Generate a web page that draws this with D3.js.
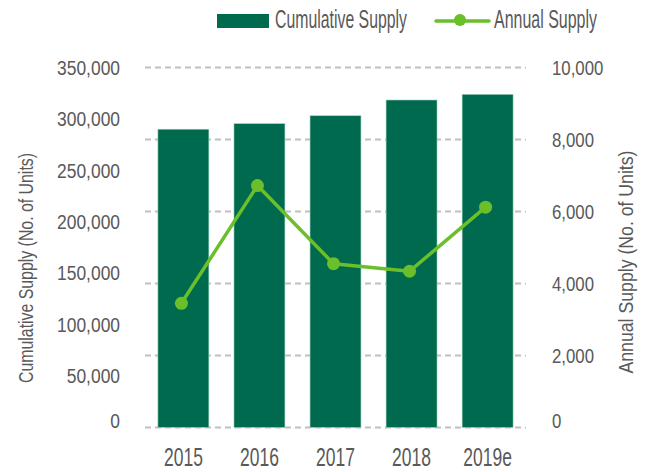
<!DOCTYPE html>
<html>
<head>
<meta charset="utf-8">
<script src="https://cdn.jsdelivr.net/npm/d3@7"></script>
<style>
  body { margin: 0; background: #fff; }
  text { font-family: "Liberation Sans", Arial, sans-serif; fill: #595959; }
</style>
</head>
<body>
<svg id="chart" width="655" height="472"></svg>
<script>
// chart data
const years = ['2015', '2016', '2017', '2018', '2019e'];
const cumulativeSupply = [290000, 295400, 303100, 318400, 323900];
const annualSupply = [3450, 6720, 4550, 4340, 6120];
const leftTicks = [0, 50000, 100000, 150000, 200000, 250000, 300000, 350000];
const rightTicks = [0, 2000, 4000, 6000, 8000, 10000];

const barColor = '#006a4e';
const lineColor = '#6abf2a';

const svg = d3.select('#chart');
const margin = {left: 145, right: 129, top: 67.5, bottom: 44.5};
const width = 655 - margin.left - margin.right;
const height = 472 - margin.top - margin.bottom;

const x = d3.scaleBand().domain(years).range([margin.left, margin.left + width])
    .paddingInner(0.33).paddingOuter(0.17);
const yLeft = d3.scaleLinear().domain([0, 350000]).range([margin.top + height, margin.top]);
const yRight = d3.scaleLinear().domain([0, 10000]).range([margin.top + height, margin.top]);

// narrow the glyphs, the source font is a condensed face
function squeeze(sel, sx, pad, side) {
    sel.attr('transform', `scale(${sx},1)`);
    if (side === 'left') sel.attr('x', -pad / sx);
    if (side === 'right') sel.attr('x', pad / sx);
}

// gridlines follow the right axis
svg.append('g')
    .selectAll('line')
    .data(rightTicks)
    .join('line')
    .attr('x1', margin.left)
    .attr('x2', margin.left + width)
    .attr('y1', d => yRight(d))
    .attr('y2', d => yRight(d))
    .attr('stroke', '#bfbfbf')
    .attr('stroke-width', 1.8)
    .attr('stroke-dasharray', '6,4');

// bars
svg.append('g')
    .selectAll('rect')
    .data(years)
    .join('rect')
    .attr('x', d => x(d))
    .attr('width', x.bandwidth())
    .attr('y', (d, i) => yLeft(cumulativeSupply[i]))
    .attr('height', (d, i) => yLeft(0) - yLeft(cumulativeSupply[i]))
    .attr('fill', barColor)
    .attr('stroke', '#9fd1c0')
    .attr('stroke-width', 0.6);

// annual line
const px = (d, i) => x(years[i]) + x.bandwidth() / 2 - 2;
const line = d3.line()
    .x(px)
    .y(d => yRight(d));

svg.append('path')
    .datum(annualSupply)
    .attr('d', line)
    .attr('fill', 'none')
    .attr('stroke', lineColor)
    .attr('stroke-width', 3.5)
    .attr('stroke-linejoin', 'round');

svg.append('g')
    .selectAll('circle')
    .data(annualSupply)
    .join('circle')
    .attr('cx', px)
    .attr('cy', d => yRight(d))
    .attr('r', 6.5)
    .attr('fill', lineColor);

// left axis
const leftAxis = svg.append('g')
    .attr('transform', `translate(${margin.left},0)`)
    .call(d3.axisLeft(yLeft).tickValues(leftTicks).tickFormat(d3.format(',')).tickSize(0));
leftAxis.select('.domain').remove();
leftAxis.selectAll('text')
    .style('font-size', '21px').attr('font-family', null).attr('fill', '#595959')
    .call(squeeze, 0.83, 25, 'left');
leftAxis.selectAll('text').filter(d => d === 0).attr('y', -7);

// right axis
const rightAxis = svg.append('g')
    .attr('transform', `translate(${margin.left + width},0)`)
    .call(d3.axisRight(yRight).tickValues(rightTicks).tickFormat(d3.format(',')).tickSize(0));
rightAxis.select('.domain').remove();
rightAxis.selectAll('text')
    .style('font-size', '21px').attr('font-family', null).attr('fill', '#595959')
    .call(squeeze, 0.8, 26, 'right');
rightAxis.selectAll('text').filter(d => d === 0).attr('y', -7);

// x axis
const xAxis = svg.append('g')
    .attr('transform', `translate(0,${margin.top + height})`)
    .call(d3.axisBottom(x).tickSize(0).tickPadding(21));
xAxis.select('.domain').remove();
xAxis.selectAll('text')
    .style('font-size', '25px').attr('font-family', null).attr('fill', '#595959')
    .call(squeeze, 0.7, 0, 'none');
xAxis.selectAll('.tick').each(function () {
    // keep the label centred after the squeeze
    const t = d3.select(this);
    const tr = t.attr('transform');
    const cx = +tr.match(/translate\(([-\d.]+)/)[1];
    t.attr('transform', `translate(${cx},0)`);
});

// axis titles
svg.append('text')
    .attr('transform', 'translate(28,268) rotate(-90)')
    .attr('text-anchor', 'middle')
    .attr('dominant-baseline', 'middle')
    .attr('textLength', 230)
    .attr('lengthAdjust', 'spacingAndGlyphs')
    .style('font-size', '20px')
    .text('Cumulative Supply (No. of Units)');

svg.append('text')
    .attr('transform', 'translate(628,262) rotate(-90)')
    .attr('text-anchor', 'middle')
    .attr('dominant-baseline', 'middle')
    .attr('textLength', 223)
    .attr('lengthAdjust', 'spacingAndGlyphs')
    .style('font-size', '20px')
    .text('Annual Supply (No. of Units)');

// legend
const legend = svg.append('g');
legend.append('rect')
    .attr('x', 217).attr('y', 14).attr('width', 52).attr('height', 14)
    .attr('fill', barColor);
legend.append('text')
    .attr('x', 275).attr('y', 28)
    .attr('textLength', 132)
    .attr('lengthAdjust', 'spacingAndGlyphs')
    .style('font-size', '25px')
    .text('Cumulative Supply');
legend.append('line')
    .attr('x1', 436).attr('x2', 489).attr('y1', 21).attr('y2', 21)
    .attr('stroke', lineColor).attr('stroke-width', 3.5).attr('stroke-linecap', 'round');
legend.append('circle')
    .attr('cx', 460).attr('cy', 20).attr('r', 6)
    .attr('fill', lineColor);
legend.append('text')
    .attr('x', 494).attr('y', 28)
    .attr('textLength', 103)
    .attr('lengthAdjust', 'spacingAndGlyphs')
    .style('font-size', '25px')
    .text('Annual Supply');
</script>
</body>
</html>
